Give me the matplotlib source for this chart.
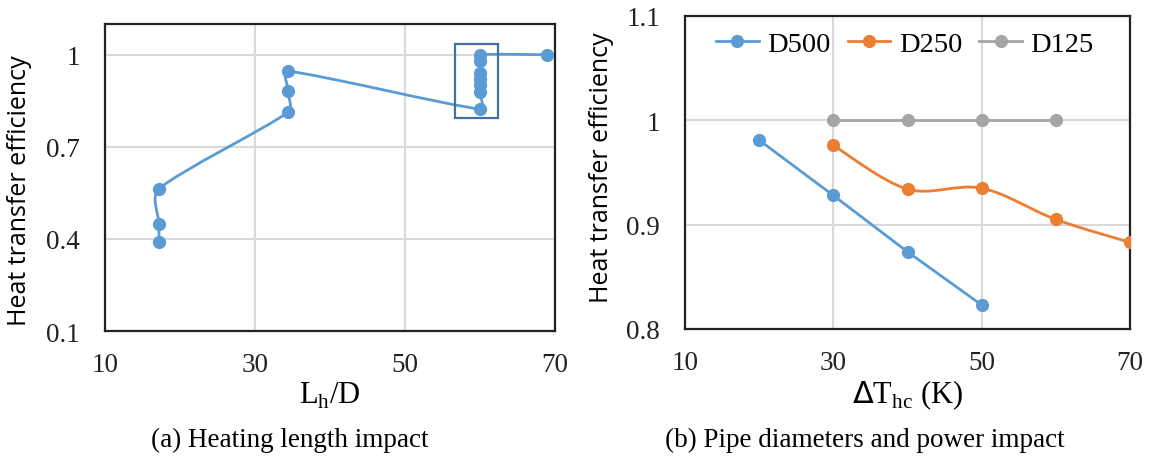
import matplotlib
matplotlib.use("Agg")
import matplotlib.pyplot as plt
import numpy as np
from matplotlib.path import Path
from matplotlib.patches import PathPatch, Rectangle
from matplotlib.lines import Line2D

# (a) heating length impact
lh_d = [17.2, 17.2, 17.2, 34.4, 34.4, 34.4, 60, 60, 60, 60, 60, 60, 60, 68.9]
eff_a = [0.389, 0.449, 0.563, 0.813, 0.882, 0.946, 0.823, 0.88, 0.90, 0.92, 0.94, 0.98, 1.0, 1.0]

# (b) pipe diameters and power impact
dt_500 = [20, 30, 40, 50]
eff_500 = [0.981, 0.928, 0.874, 0.823]
dt_250 = [30, 40, 50, 60, 70]
eff_250 = [0.976, 0.934, 0.935, 0.905, 0.883]
dt_125 = [30, 40, 50, 60]
eff_125 = [1.0, 1.0, 1.0, 1.0]

x_ticks = [10, 30, 50, 70]
ticks_a = [0.1, 0.4, 0.7, 1.0]
ticks_b = [0.8, 0.9, 1.0, 1.1]

BLUE = "#5B9BD5"
ORANGE = "#ED7D31"
GREY = "#A5A5A5"
SERIF = "Liberation Serif"
SANS = "Open Sans"


def unit(v):
    n = np.hypot(*v)
    return v / n if n > 0 else v


def smooth_path(ax, xs, ys):
    # smoothed line in screen space; control arms clamped by segment length
    pts = ax.transData.transform(np.column_stack([xs, ys]))
    verts = [pts[0]]
    codes = [Path.MOVETO]
    n = len(pts)
    for i in range(n - 1):
        p0 = pts[i - 1] if i > 0 else pts[i]
        p1 = pts[i]
        p2 = pts[i + 1]
        p3 = pts[i + 2] if i + 2 < n else pts[i + 1]
        seg = np.hypot(*(p2 - p1)) / 3
        d1 = min(np.hypot(*(p2 - p0)) / 6, seg)
        d2 = min(np.hypot(*(p3 - p1)) / 6, seg)
        verts += [p1 + unit(p2 - p0) * d1, p2 - unit(p3 - p1) * d2, p2]
        codes += [Path.CURVE4] * 3
    verts = ax.transData.inverted().transform(np.array(verts))
    return Path(verts, codes)


def style_axes(ax, yticks, ylabels):
    ax.set_xlim(10, 70)
    ax.set_xticks(x_ticks)
    ax.set_xticklabels([str(t) for t in x_ticks], family=SERIF, fontsize=19.5)
    ax.set_yticks(yticks)
    ax.set_yticklabels(ylabels, family=SERIF, fontsize=19.5)
    ax.tick_params(axis="x", length=0, pad=15, colors="#222222")
    ax.tick_params(axis="y", length=0, pad=18, colors="#222222")
    ax.grid(True, color="#D9D9D9", lw=1.5)
    ax.set_axisbelow(True)
    for s in ax.spines.values():
        s.set_color("#222222")
        s.set_linewidth(1.6)


fig = plt.figure(figsize=(11.51, 4.6), dpi=100)

ax1 = fig.add_axes([105 / 1151, 1 - 332 / 460, 450 / 1151, 307 / 460])
ax1.set_ylim(0.1, 1.1)
style_axes(ax1, ticks_a, ["0.1", "0.4", "0.7", "1"])
ax1.add_patch(PathPatch(smooth_path(ax1, lh_d, eff_a), fill=False, edgecolor=BLUE, lw=2, zorder=3))
ax1.plot(lh_d, eff_a, "o", color=BLUE, ms=8.5, zorder=4)
ax1.add_patch(Rectangle((56.7, 0.795), 5.7, 0.241, fill=False, edgecolor="#41719C", lw=1.6, zorder=5))
ax1.set_ylabel("Heat transfer efficiency", family=SANS, fontsize=18)
ax1.yaxis.set_label_coords(-0.163, 0.46)
ax1.set_xlabel(r"L$_\mathregular{h}$/D", family=SERIF, fontsize=22, labelpad=2)

ax2 = fig.add_axes([685 / 1151, 1 - 330 / 460, 445 / 1151, 313 / 460])
ax2.set_ylim(0.8, 1.1)
style_axes(ax2, ticks_b, ["0.8", "0.9", "1", "1.1"])
ax2.plot(dt_500, eff_500, "-o", color=BLUE, lw=2, ms=8.5, zorder=4)
ax2.add_patch(PathPatch(smooth_path(ax2, dt_250, eff_250), fill=False, edgecolor=ORANGE, lw=2, zorder=3))
ax2.plot(dt_250, eff_250, "o", color=ORANGE, ms=8.5, zorder=4)
ax2.plot(dt_125, eff_125, "-o", color=GREY, lw=2, ms=8.5, zorder=4)
ax2.set_ylabel("Heat transfer efficiency", family=SANS, fontsize=18)
ax2.yaxis.set_label_coords(-0.16, 0.52)
ax2.set_xlabel(r"$\Delta$T$_\mathregular{hc}$ (K)", family=SERIF, fontsize=22, labelpad=2)

handles = [Line2D([], [], color=c, lw=2, marker="o", ms=8.5) for c in (BLUE, ORANGE, GREY)]
ax2.legend(handles, ["D500", "D250", "D125"], loc="center", bbox_to_anchor=(0.494, 0.91),
           ncol=3, frameon=False, prop={"family": SERIF, "size": 20.5},
           handlelength=1.5, handletextpad=0.3, columnspacing=0.6)

fig.text(290 / 1151, 1 - 440 / 460, "(a) Heating length impact", family=SERIF,
         fontsize=19.5, ha="center", va="center")
fig.text(865 / 1151, 1 - 440 / 460, "(b) Pipe diameters and power impact", family=SERIF,
         fontsize=19.5, ha="center", va="center")

fig.savefig("out.png", dpi=100)
